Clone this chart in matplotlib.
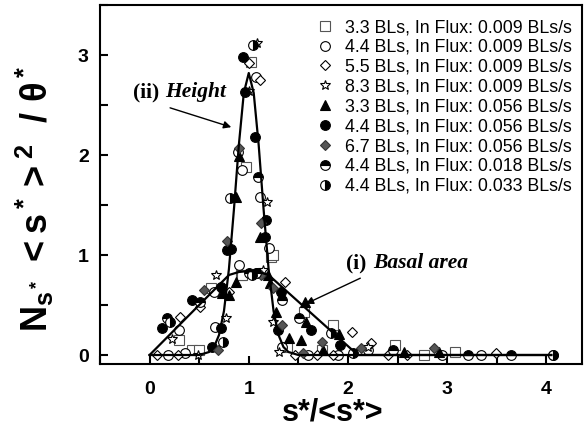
import matplotlib
matplotlib.use("Agg")
import matplotlib.pyplot as plt
from matplotlib.ticker import MultipleLocator

plt.rcParams['font.family'] = ['Liberation Sans', 'DejaVu Sans']
plt.rcParams['mathtext.fontset'] = 'custom'
plt.rcParams['mathtext.rm'] = 'Liberation Sans:bold'
plt.rcParams['mathtext.it'] = 'Liberation Sans:bold'
plt.rcParams['mathtext.bf'] = 'Liberation Sans:bold'
plt.rcParams['mathtext.sf'] = 'Liberation Sans:bold'

# ---------------- data ----------------
labels = ["3.3 BLs, In Flux: 0.009 BLs/s",
          "4.4 BLs, In Flux: 0.009 BLs/s",
          "5.5 BLs, In Flux: 0.009 BLs/s",
          "8.3 BLs, In Flux: 0.009 BLs/s",
          "3.3 BLs, In Flux: 0.056 BLs/s",
          "4.4 BLs, In Flux: 0.056 BLs/s",
          "6.7 BLs, In Flux: 0.056 BLs/s",
          "4.4 BLs, In Flux: 0.018 BLs/s",
          "4.4 BLs, In Flux: 0.033 BLs/s"]

s1_x = [0.30, 0.43, 0.50, 0.62, 0.92, 0.93, 0.97, 1.02, 1.22, 1.24, 1.39, 1.56, 1.74, 1.85, 2.47, 2.77, 3.08]
s1_y = [0.15, 0.05, 0.05, 0.67, 0.80, 0.80, 1.88, 2.93, 0.98, 1.00, 0.08, 0.43, 0.05, 0.30, 0.10, 0.00, 0.03]

s2_x = [0.19, 0.36, 0.30, 0.65, 0.66, 0.89, 0.90, 0.93, 1.07, 1.11, 1.20, 1.34, 1.60, 1.90, 2.20, 2.95, 3.34, 4.07]
s2_y = [0.00, 0.02, 0.25, 0.63, 0.28, 2.03, 0.90, 1.85, 2.78, 1.58, 1.07, 0.08, 0.00, 0.00, 0.05, 0.00, 0.00, 0.00]

s3_x = [0.07, 0.29, 0.31, 0.51, 0.80, 1.00, 1.11, 1.37, 1.47, 1.69, 1.85, 2.04, 2.23, 2.40, 2.60, 3.49]
s3_y = [0.00, 0.00, 0.38, 0.48, 0.63, 2.92, 2.75, 0.73, 0.00, 0.00, 0.00, 0.23, 0.12, 0.00, 0.00, 0.02]

s4_x = [0.23, 0.49, 0.67, 0.77, 1.00, 1.08, 1.14, 1.18, 1.24, 1.30, 2.20]
s4_y = [0.16, 0.00, 0.80, 0.37, 2.64, 3.12, 0.85, 1.53, 0.33, 0.03, 0.08]

s5_x = [0.73, 0.80, 0.87, 0.87, 0.90, 1.11, 1.19, 1.21, 1.27, 1.41, 1.53, 1.57, 1.58, 1.75, 1.91, 2.57, 2.92]
s5_y = [0.62, 0.60, 0.73, 1.58, 1.99, 1.18, 0.80, 0.72, 0.43, 0.17, 0.15, 0.53, 0.33, 0.05, 0.21, 0.03, 0.03]

s6_x = [0.13, 0.43, 0.63, 0.72, 0.72, 0.78, 0.82, 0.94, 0.96, 1.06, 1.08, 1.16, 1.17, 1.29, 1.33, 1.63, 1.92]
s6_y = [0.27, 0.55, 0.08, 0.68, 0.27, 1.05, 1.06, 2.98, 2.63, 2.18, 0.82, 1.18, 1.35, 0.25, 0.63, 0.25, 0.10]

s7_x = [0.55, 0.69, 0.78, 0.90, 1.12, 1.12, 1.24, 1.34, 1.55, 1.74, 2.13, 2.87]
s7_y = [0.65, 0.05, 1.14, 2.07, 0.80, 1.32, 0.67, 0.30, 0.02, 0.13, 0.07, 0.07]

s8_x = [0.18, 0.51, 1.00, 1.07, 1.09, 1.34, 1.51, 2.45, 3.21, 3.64]
s8_y = [0.37, 0.53, 0.82, 0.82, 1.78, 0.55, 0.37, 0.05, 0.00, 0.00]

s9_x = [0.21, 0.74, 0.81, 1.03, 1.04, 1.83, 2.05, 4.07]
s9_y = [0.33, 0.13, 1.57, 0.80, 3.10, 0.22, 0.02, 0.00]

# fitted curves
height_x = [0.00, 0.50, 0.60, 0.65, 0.70, 0.75, 0.80, 0.85, 0.90, 0.95, 1.00,
            1.05, 1.10, 1.15, 1.20, 1.25, 1.30, 1.35, 1.40, 1.50, 4.05]
height_y = [0.00, 0.00, 0.03, 0.08, 0.20, 0.44, 0.86, 1.45, 2.10, 2.62, 2.82,
            2.62, 2.10, 1.45, 0.86, 0.44, 0.20, 0.08, 0.03, 0.00, 0.00]

basal_x = [0.00, 0.80, 0.90, 1.00, 1.10, 1.20, 2.10, 4.05]
basal_y = [0.00, 0.80, 0.83, 0.84, 0.83, 0.80, 0.00, 0.00]

series_x = [s1_x, s2_x, s3_x, s4_x, s5_x, s6_x, s7_x, s8_x, s9_x]
series_y = [s1_y, s2_y, s3_y, s4_y, s5_y, s6_y, s7_y, s8_y, s9_y]

styles = [
    dict(marker='s', mfc='white', mec='#555555', ms=6.5),
    dict(marker='o', mfc='white', mec='black', ms=7),
    dict(marker='D', mfc='white', mec='black', ms=5.5),
    dict(marker='*', mfc='white', mec='black', ms=7.5),
    dict(marker='^', mfc='black', mec='black', ms=6.5),
    dict(marker='o', mfc='black', mec='black', ms=7),
    dict(marker='D', mfc='#555555', mec='#333333', ms=5.5),
    dict(marker='o', mfc='black', mfcalt='white', mec='black', ms=7, fillstyle='top'),
    dict(marker='o', mfc='black', mfcalt='white', mec='black', ms=7, fillstyle='right'),
]

fig = plt.figure(figsize=(5.85, 4.32), dpi=100)
ax = fig.add_axes([100/585, (432-364)/432, 482/585, 359/432])

for xs, ys, st, lab in zip(series_x, series_y, styles, labels):
    kw = dict(linestyle='none', marker=st['marker'], markerfacecolor=st['mfc'],
              markeredgecolor=st['mec'], markersize=st['ms'], markeredgewidth=0.8,
              label=lab, zorder=3)
    if 'fillstyle' in st:
        kw['fillstyle'] = st['fillstyle']
        kw['markerfacecoloralt'] = st['mfcalt']
    ax.plot(xs, ys, **kw)

ax.plot(height_x, height_y, color='black', lw=1.6, zorder=4)
ax.plot(basal_x, basal_y, color='black', lw=1.6, zorder=4)

ax.set_xlim(-0.5, 4.36)
ax.set_ylim(-0.09, 3.5)
ax.xaxis.set_major_locator(MultipleLocator(1))
ax.xaxis.set_minor_locator(MultipleLocator(0.5))
ax.yaxis.set_major_locator(MultipleLocator(1))
ax.yaxis.set_minor_locator(MultipleLocator(0.5))
ax.tick_params(which='both', direction='in', length=5.5, width=1.5)
ax.tick_params(axis='x', which='major', pad=12, labelsize=14)
ax.tick_params(axis='y', which='major', pad=8, labelsize=14)
for lbl in ax.get_xticklabels() + ax.get_yticklabels():
    lbl.set_fontweight('bold')
for sp in ax.spines.values():
    sp.set_linewidth(1.5)

ax.set_xlabel('s*/<s*>', fontsize=22, fontweight='bold')
ax.xaxis.set_label_coords(0.483, -0.134)
ax.xaxis.label.set_va('center')
ax.set_ylabel(r'$\mathbf{N_{s^*}\;<s^*>^2\ \ /\ \theta^*}$', fontsize=26)
ax.yaxis.set_label_coords(-0.135, 0.46)
ax.yaxis.label.set_va('center')

leg = ax.legend(loc='upper left', bbox_to_anchor=(0.452, 0.961), frameon=False,
                fontsize=12.8, handlelength=0.8, handletextpad=0.73,
                labelspacing=0.16, borderpad=0, borderaxespad=0, numpoints=1)

# annotations
serif = ['Liberation Serif', 'DejaVu Serif']
ax.text(-0.17, 2.63, '(ii)', family=serif, fontweight='bold', fontsize=15.5, va='center')
ax.text(0.16, 2.63, 'Height', family=serif, fontweight='bold', style='italic', fontsize=15.5, va='center')
ax.annotate('', xy=(0.85, 2.27), xytext=(0.18, 2.48),
            arrowprops=dict(arrowstyle='-|>', lw=1.0, color='black', mutation_scale=11))
ax.text(1.98, 0.92, '(i)', family=serif, fontweight='bold', fontsize=15.5, va='center')
ax.text(2.25, 0.92, 'Basal area', family=serif, fontweight='bold', style='italic', fontsize=15.5, va='center')
ax.annotate('', xy=(1.55, 0.50), xytext=(2.15, 0.78),
            arrowprops=dict(arrowstyle='-|>', lw=1.0, color='black', mutation_scale=11))

fig.savefig('out.png', dpi=100)
